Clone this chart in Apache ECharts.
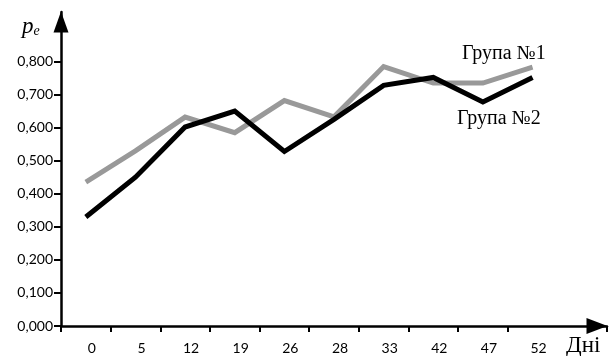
<!DOCTYPE html>
<html>
<head>
<meta charset="utf-8">
<script src="https://cdn.jsdelivr.net/npm/echarts@6/dist/echarts.min.js"></script>
<style>
html,body{margin:0;padding:0;background:#fff;}
#chart{width:611px;height:356px;}
</style>
</head>
<body>
<div id="chart"></div>
<script>
// Data
var days = ['0', '5', '12', '19', '26', '28', '33', '42', '47', '52'];
var group1 = [0.435, 0.530, 0.632, 0.585, 0.682, 0.633, 0.785, 0.735, 0.735, 0.783];
var group2 = [0.330, 0.450, 0.602, 0.650, 0.528, 0.625, 0.728, 0.752, 0.678, 0.752];
var yTicks = [0, 0.1, 0.2, 0.3, 0.4, 0.5, 0.6, 0.7, 0.8];
var seriesNames = ['Група №1', 'Група №2'];

var chart = echarts.init(document.getElementById('chart'), null, {renderer: 'canvas'});
var axisData = days.concat(['']);
var fmt = function (v) { return Number(v).toFixed(3).replace('.', ','); };

chart.setOption({
  animation: false,
  backgroundColor: '#ffffff',
  grid: {left: 61, right: 4, top: 12, bottom: 30, containLabel: false},
  xAxis: {
    type: 'category',
    data: axisData,
    boundaryGap: true,
    axisLine: {
      lineStyle: {color: '#000', width: 2.5},
      symbol: ['none', 'triangle'],
      symbolSize: [16, 21],
      symbolOffset: [0, -10]
    },
    axisTick: {
      show: true, length: 6, inside: false,
      lineStyle: {color: '#000', width: 2},
      interval: function (i) { return i < days.length; }
    },
    axisLabel: {
      color: '#000', fontFamily: 'Lato', fontSize: 14, margin: 15,
      interval: 0, padding: [0, 0, 0, 12]
    },
    splitLine: {show: false}
  },
  yAxis: {
    type: 'value',
    min: 0, max: 0.95, interval: 0.1,
    axisLine: {
      show: true,
      lineStyle: {color: '#000', width: 2.5},
      symbol: ['none', 'triangle'],
      symbolSize: [15, 21],
      symbolOffset: [0, -10]
    },
    axisTick: {
      show: true, length: 7, inside: false,
      lineStyle: {color: '#000', width: 2},
      customValues: yTicks
    },
    axisLabel: {
      color: '#000', fontFamily: 'Lato', fontSize: 14, margin: 8,
      customValues: yTicks,
      formatter: fmt
    },
    splitLine: {show: false}
  },
  series: [
    {
      name: seriesNames[0], type: 'line', data: group1, symbol: 'none',
      lineStyle: {color: '#999999', width: 5, join: 'miter'}, z: 2
    },
    {
      name: seriesNames[1], type: 'line', data: group2, symbol: 'none',
      lineStyle: {color: '#000000', width: 5, join: 'miter'}, z: 3
    }
  ],
  graphic: [
    {type: 'text', left: 462, top: 44, style: {text: seriesNames[0], fontFamily: 'Liberation Serif', fontSize: 20, fill: '#000'}},
    {type: 'text', left: 457, top: 109, style: {text: seriesNames[1], fontFamily: 'Liberation Serif', fontSize: 20, fill: '#000'}},
    {type: 'text', left: 566, top: 334, style: {text: 'Дні', fontFamily: 'Liberation Serif', fontSize: 23, fill: '#000'}},
    {type: 'text', left: 22, top: 15, style: {
      text: '{p|p}{e|e}',
      rich: {
        p: {fontFamily: 'Liberation Serif', fontStyle: 'italic', fontSize: 23, fill: '#000'},
        e: {fontFamily: 'Liberation Serif', fontStyle: 'italic', fontSize: 14, fill: '#000', padding: [9, 0, 0, 0]}
      }
    }}
  ]
});
</script>
</body>
</html>
